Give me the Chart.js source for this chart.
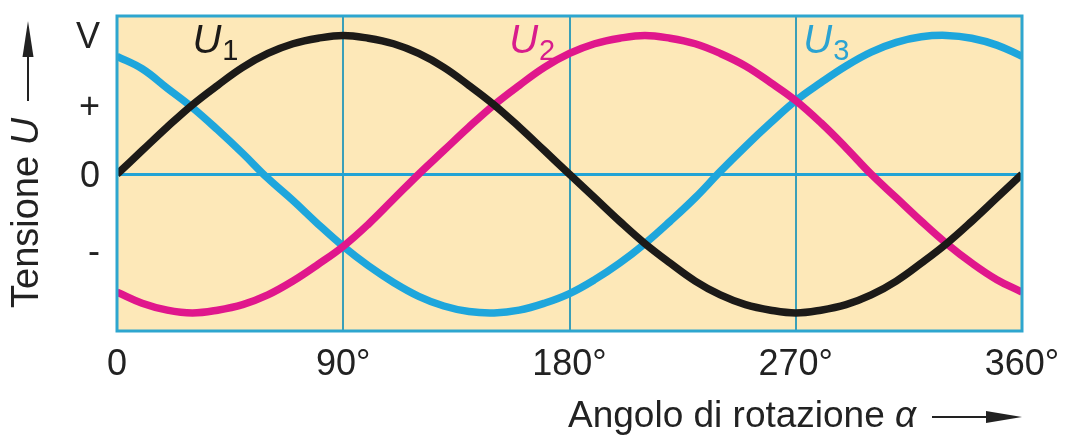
<!DOCTYPE html>
<html>
<head>
<meta charset="utf-8">
<script src="https://cdn.jsdelivr.net/npm/chart.js@4/dist/chart.umd.min.js"></script>
<style>
  html, body { margin: 0; padding: 0; background: #ffffff; }
  #wrap { width: 1067px; height: 436px; position: relative; }
</style>
</head>
<body>
<div id="wrap"><canvas id="c" width="1067" height="436"></canvas></div>
<script>
// ---- data ----
const angles = [0,10,20,30,40,50,60,70,80,90,100,110,120,130,140,150,160,170,180,
                190,200,210,220,230,240,250,260,270,280,290,300,310,320,330,340,350,360];
const u1 = [0,0.17,0.34,0.50,0.64,0.77,0.87,0.94,0.98,1.00,0.98,0.94,0.87,0.77,0.64,0.50,0.34,0.17,0,
            -0.17,-0.34,-0.50,-0.64,-0.77,-0.87,-0.94,-0.98,-1.00,-0.98,-0.94,-0.87,-0.77,-0.64,-0.50,-0.34,-0.17,0];
const u2 = [-0.85,-0.93,-0.98,-1.00,-0.98,-0.94,-0.87,-0.77,-0.65,-0.52,-0.36,-0.18,0,0.17,0.34,0.50,0.64,0.77,0.87,
            0.94,0.98,1.00,0.98,0.94,0.87,0.78,0.66,0.53,0.37,0.19,0,-0.17,-0.34,-0.50,-0.64,-0.76,-0.85];
const u3 = [0.85,0.76,0.62,0.48,0.32,0.15,-0.03,-0.19,-0.36,-0.52,-0.66,-0.78,-0.88,-0.95,-0.99,-1.00,-0.98,-0.93,-0.86,
            -0.76,-0.64,-0.50,-0.34,-0.17,0.02,0.20,0.37,0.53,0.66,0.78,0.88,0.95,0.99,1.00,0.98,0.93,0.85];
const xTickValues = [0, 90, 180, 270, 360];
const xTickLabels = ['0', '90°', '180°', '270°', '360°'];
const yTickValues = [-0.55, 0, 0.5, 1];
const yTickLabels = ['-', '0', '+', 'V'];
const seriesNames = ['U', 'U', 'U'];
const seriesSubs = ['1', '2', '3'];
const labelAngles = [30, 156, 273];
const labelValues = [0.87, 0.87, 0.87];

const colors = ['#1c1a18', '#e0178c', '#1ea6dc'];
const labelColors = ['#1c1a18', '#d81c8c', '#2ba3d2'];
const FONT = '"Liberation Sans", Arial, sans-serif';

const pts = arr => angles.map((a, i) => ({x: a, y: arr[i]}));

const bgPlugin = {
  id: 'bg',
  beforeDraw(chart) {
    const {ctx, chartArea: a} = chart;
    ctx.save();
    ctx.fillStyle = '#fde8b8';
    ctx.fillRect(a.left, a.top, a.right - a.left, a.bottom - a.top);
    ctx.restore();
  },
  afterDatasetsDraw(chart) {
    const {ctx, chartArea: a, scales} = chart;
    ctx.save();
    ctx.strokeStyle = '#2ea6cf';
    ctx.lineWidth = 3;
    ctx.strokeRect(a.left, a.top, a.right - a.left, a.bottom - a.top);
    // series labels
    for (let i = 0; i < seriesNames.length; i++) {
      const x = scales.x.getPixelForValue(labelAngles[i]);
      const y = scales.y.getPixelForValue(labelValues[i]);
      ctx.fillStyle = labelColors[i];
      ctx.textBaseline = 'alphabetic';
      ctx.textAlign = 'left';
      ctx.font = 'italic 40px ' + FONT;
      ctx.fillText(seriesNames[i], x, y);
      const w = ctx.measureText(seriesNames[i]).width;
      ctx.font = '29px ' + FONT;
      ctx.fillText(seriesSubs[i], x + w + 1, y + 7);
    }
    ctx.restore();
  },
  afterDraw(chart) {
    const {ctx} = chart;
    ctx.save();
    ctx.fillStyle = '#222';
    ctx.strokeStyle = '#222';
    // Y title, rotated
    ctx.translate(38, 308);
    ctx.rotate(-Math.PI / 2);
    ctx.textBaseline = 'alphabetic';
    ctx.textAlign = 'left';
    ctx.font = '38px ' + FONT;
    const t1 = 'Tensione ';
    ctx.fillText(t1, 0, 0);
    let w = ctx.measureText(t1).width;
    ctx.font = 'italic 38px ' + FONT;
    ctx.fillText('U', w, 0);
    ctx.restore();
    // Y arrow
    ctx.save();
    ctx.strokeStyle = '#222'; ctx.fillStyle = '#222';
    ctx.lineWidth = 2;
    ctx.beginPath(); ctx.moveTo(28, 101); ctx.lineTo(28, 45); ctx.stroke();
    ctx.beginPath(); ctx.moveTo(28, 21); ctx.lineTo(22.5, 57); ctx.lineTo(33.5, 57); ctx.closePath(); ctx.fill();
    // X title
    ctx.textBaseline = 'alphabetic';
    ctx.textAlign = 'left';
    ctx.font = '37px ' + FONT;
    const t2 = 'Angolo di rotazione ';
    ctx.fillText(t2, 568, 427);
    w = ctx.measureText(t2).width;
    ctx.font = 'italic 37px ' + FONT;
    ctx.fillText('α', 568 + w, 427);
    // X arrow
    ctx.beginPath(); ctx.moveTo(932, 417); ctx.lineTo(995, 417); ctx.stroke();
    ctx.beginPath(); ctx.moveTo(1022, 417); ctx.lineTo(986, 411); ctx.lineTo(986, 423); ctx.closePath(); ctx.fill();
    ctx.restore();
  }
};

const ds = (label, arr, color) => ({
  label, data: pts(arr), borderColor: color, backgroundColor: color,
  borderWidth: 7.5, pointRadius: 0, tension: 0.4, fill: false
});

new Chart(document.getElementById('c'), {
  type: 'line',
  data: { datasets: [ds('U1', u1, colors[0]), ds('U2', u2, colors[1]), ds('U3', u3, colors[2])] },
  options: {
    responsive: false,
    animation: false,
    layout: { autoPadding: false, padding: { left: 0, top: 16, right: 45, bottom: 0 } },
    plugins: { legend: { display: false }, tooltip: { enabled: false } },
    scales: {
      x: {
        type: 'linear', min: 0, max: 360,
        afterBuildTicks: s => { s.ticks = xTickValues.map(v => ({value: v})); },
        afterFit: s => { s.height = 105; s.paddingLeft = 0; s.paddingRight = 0; s.paddingTop = 0; s.paddingBottom = 0; },
        ticks: {
          font: { family: FONT, size: 36 }, color: '#222', padding: 12, maxRotation: 0,
          callback: v => xTickLabels[xTickValues.indexOf(v)]
        },
        grid: {
          drawTicks: false,
          color: c => (c.tick && (c.tick.value === 0 || c.tick.value === 360)) ? 'rgba(0,0,0,0)' : '#3a9fb8',
          lineWidth: 2
        },
        border: { display: false }
      },
      y: {
        type: 'linear', min: -1.13, max: 1.14,
        afterBuildTicks: s => { s.ticks = yTickValues.map(v => ({value: v})); },
        afterFit: s => { s.width = 117; s.paddingTop = 0; s.paddingBottom = 0; s.paddingLeft = 0; s.paddingRight = 0; },
        ticks: {
          font: { family: FONT, size: 36 }, color: '#222', padding: 17, labelOffset: 3,
          callback: v => yTickLabels[yTickValues.indexOf(v)]
        },
        grid: {
          drawTicks: false,
          color: c => (c.tick && c.tick.value === 0) ? '#22a3d5' : 'rgba(0,0,0,0)',
          lineWidth: 3
        },
        border: { display: false }
      }
    }
  },
  plugins: [bgPlugin]
});
</script>
</body>
</html>
